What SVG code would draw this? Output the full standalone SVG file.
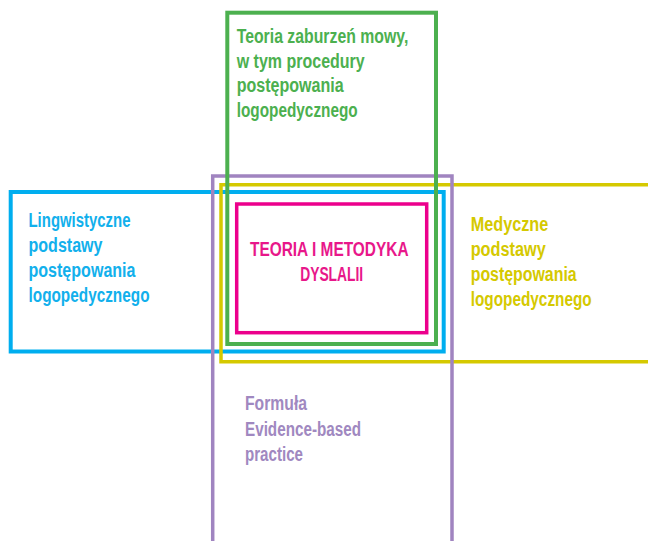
<svg xmlns="http://www.w3.org/2000/svg" width="648" height="541" viewBox="0 0 648 541">
<style>
.box{fill:none;}
.t{font-family:"Liberation Sans",Arial,sans-serif;font-weight:bold;font-size:19.5px;}
.blue{stroke:#00aeef;stroke-width:4;}
.yellow{stroke:#d5c900;stroke-width:3.5;}
.purple{stroke:#a084c0;stroke-width:3.5;}
.green{stroke:#4cb04f;stroke-width:4;}
.magenta{stroke:#ec008c;stroke-width:3.5;}
</style>
<rect width="648" height="541" fill="#ffffff"/>
<g id="blue-node">
<rect class="box blue" x="10.7" y="192" width="433" height="159.5"/>
<text class="t" fill="#12b0ec">
<tspan x="28.5" y="227" textLength="102" lengthAdjust="spacingAndGlyphs">Lingwistyczne</tspan>
<tspan x="28.5" y="251.5" textLength="74" lengthAdjust="spacingAndGlyphs">podstawy</tspan>
<tspan x="28.5" y="276.5" textLength="107" lengthAdjust="spacingAndGlyphs">postępowania</tspan>
<tspan x="28.5" y="301.5" textLength="121" lengthAdjust="spacingAndGlyphs">logopedycznego</tspan>
</text>
</g>
<g id="yellow-node">
<path class="box yellow" d="M650 184.7 H221 V361.7 H650"/>
<text class="t" fill="#d5c900">
<tspan x="470.7" y="230.5" textLength="77.6" lengthAdjust="spacingAndGlyphs">Medyczne</tspan>
<tspan x="470.7" y="255.5" textLength="75" lengthAdjust="spacingAndGlyphs">podstawy</tspan>
<tspan x="470.7" y="280.5" textLength="106" lengthAdjust="spacingAndGlyphs">postępowania</tspan>
<tspan x="470.7" y="305.5" textLength="121" lengthAdjust="spacingAndGlyphs">logopedycznego</tspan>
</text>
</g>
<g id="purple-node">
<path class="box purple" d="M212.7 545 V176 H452 V545"/>
<text class="t" fill="#a088c0">
<tspan x="245" y="410" textLength="62" lengthAdjust="spacingAndGlyphs">Formuła</tspan>
<tspan x="245" y="436" textLength="116" lengthAdjust="spacingAndGlyphs">Evidence-based</tspan>
<tspan x="245" y="461" textLength="58" lengthAdjust="spacingAndGlyphs">practice</tspan>
</text>
</g>
<g id="green-node">
<rect class="box green" x="227.3" y="12.7" width="208.7" height="331.3"/>
<text class="t" fill="#4cb04f">
<tspan x="236.7" y="43" textLength="171.6" lengthAdjust="spacingAndGlyphs">Teoria zaburzeń mowy,</tspan>
<tspan x="236.7" y="67.5" textLength="128" lengthAdjust="spacingAndGlyphs">w tym procedury</tspan>
<tspan x="236.7" y="92" textLength="107" lengthAdjust="spacingAndGlyphs">postępowania</tspan>
<tspan x="236.7" y="117" textLength="121" lengthAdjust="spacingAndGlyphs">logopedycznego</tspan>
</text>
</g>
<g id="magenta-node">
<rect class="box magenta" x="236.7" y="204" width="190" height="128.7"/>
<text class="t" fill="#e8178a" text-anchor="middle">
<tspan x="331.7" y="256" textLength="158" lengthAdjust="spacingAndGlyphs">TEORIA I METODYKA</tspan>
<tspan x="331.7" y="280.5" textLength="63" lengthAdjust="spacingAndGlyphs">DYSLALII</tspan>
</text>
</g>
<g id="connectors"></g>
</svg>
